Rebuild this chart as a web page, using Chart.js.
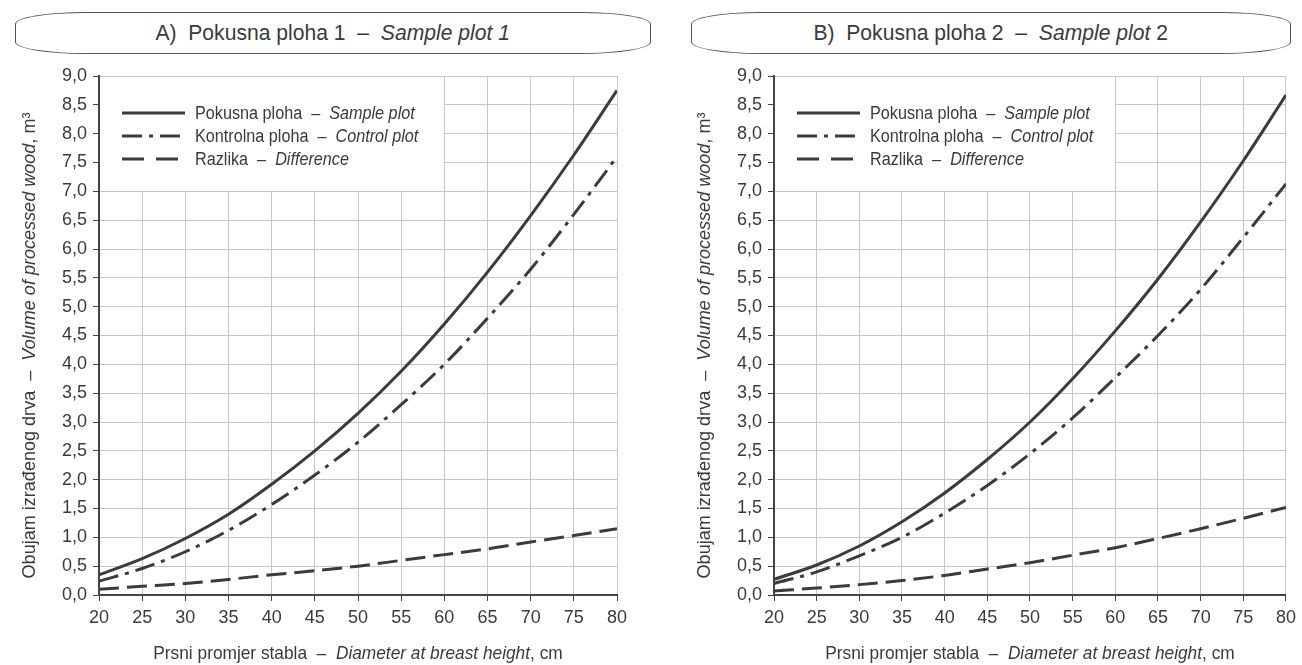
<!DOCTYPE html>
<html>
<head>
<meta charset="utf-8">
<script src="https://cdn.jsdelivr.net/npm/chart.js@4.4.1/dist/chart.umd.min.js"></script>
<style>
  html, body { margin: 0; padding: 0; background: #fff; }
  body { width: 1302px; height: 665px; position: relative; overflow: hidden;
         font-family: "Liberation Sans Narrow", "Arial Narrow", "Liberation Sans", sans-serif; color: #3a3a3a; }
  .title-box { position: absolute; top: 12px; height: 40px; border: 1px solid #555;
               border-radius: 70px / 12px; text-align: center; line-height: 40px; font-size: 22px; }
  .title-box span { display: inline-block; transform: scaleX(0.96); }
  .title-box i { font-style: italic; }
  canvas { position: absolute; top: 0; }
</style>
</head>
<body>
<div class="title-box" style="left:15px; width:634px;"><span>A)&nbsp; Pokusna ploha 1&nbsp; –&nbsp; <i>Sample plot 1</i></span></div>
<div class="title-box" style="left:691px; width:598px;"><span>B)&nbsp; Pokusna ploha 2&nbsp; –&nbsp; <i>Sample plot</i> 2</span></div>
<canvas id="chartA" width="651" height="665" style="left:0"></canvas>
<canvas id="chartB" width="627" height="665" style="left:675px"></canvas>
<script>
// promjer (cm)
const diameters = [20, 25, 30, 35, 40, 45, 50, 55, 60, 65, 70, 75, 80];

// Pokusna ploha 1
const plot1Sample  = [0.35, 0.63, 0.98, 1.40, 1.92, 2.50, 3.15, 3.88, 4.70, 5.60, 6.58, 7.63, 8.75];
const plot1Control = [0.24, 0.46, 0.75, 1.12, 1.57, 2.08, 2.65, 3.30, 4.00, 4.80, 5.65, 6.60, 7.60];
const plot1Diff    = [0.10, 0.15, 0.20, 0.27, 0.35, 0.42, 0.50, 0.60, 0.70, 0.80, 0.92, 1.03, 1.15];

// Pokusna ploha 2
const plot2Sample  = [0.27, 0.52, 0.85, 1.27, 1.77, 2.35, 3.00, 3.75, 4.58, 5.48, 6.47, 7.53, 8.67];
const plot2Control = [0.20, 0.40, 0.68, 1.00, 1.42, 1.90, 2.45, 3.07, 3.77, 4.50, 5.30, 6.20, 7.13];
const plot2Diff    = [0.07, 0.12, 0.18, 0.25, 0.34, 0.45, 0.56, 0.69, 0.82, 0.98, 1.15, 1.33, 1.52];

const legendLabels = [
    [['Pokusna ploha  –  ', false], ['Sample plot', true]],
    [['Kontrolna ploha  –  ', false], ['Control plot', true]],
    [['Razlika  –  ', false], ['Difference', true]]
];
const xTitle = [['Prsni promjer stabla  –  ', false], ['Diameter at breast height', true], [', cm', false]];
const yTitle = [['Obujam izrađenog drva  –  ', false], ['Volume of processed wood', true], [', m³', false]];

const FONT = '"Liberation Sans Narrow", "Arial Narrow", "Liberation Sans", sans-serif';
const LINE = '#3b3b3b';
const TEXT = '#3a3a3a';
const dashes = [[], [20, 7, 4, 7], [20, 8]];
const legendDashes = [[], [20, 7, 4, 7], [22, 12]];

// tekst s kurzivom, sx = suženje fonta
function richText(ctx, parts, x, y, size, sx, align) {
    let total = 0;
    parts.forEach(p => {
        ctx.font = (p[1] ? 'italic ' : '') + size + 'px ' + FONT;
        total += ctx.measureText(p[0]).width;
    });
    ctx.save();
    ctx.translate(x, y);
    ctx.scale(sx, 1);
    let cx = align === 'left' ? 0 : -total / 2;
    parts.forEach(p => {
        ctx.font = (p[1] ? 'italic ' : '') + size + 'px ' + FONT;
        ctx.fillText(p[0], cx, 0);
        cx += ctx.measureText(p[0]).width;
    });
    ctx.restore();
}

const legendBox = {
    id: 'legendBox',
    beforeDatasetsDraw(chart) {
        const ctx = chart.ctx;
        const area = chart.chartArea;
        const xs = chart.scales.x, ys = chart.scales.y;
        const right = xs.getPixelForValue(60);
        const bottom = ys.getPixelForValue(7);
        ctx.save();
        ctx.fillStyle = '#fff';
        ctx.fillRect(area.left + 1, area.top + 1, right - area.left - 1.5, bottom - area.top - 1.5);
        ctx.strokeStyle = LINE;
        ctx.lineWidth = 3;
        ctx.fillStyle = TEXT;
        ctx.textBaseline = 'middle';
        legendLabels.forEach((lab, i) => {
            const y = area.top + 37 + i * 23;
            ctx.setLineDash(legendDashes[i]);
            ctx.beginPath();
            ctx.moveTo(area.left + 23, y);
            ctx.lineTo(area.left + 86, y);
            ctx.stroke();
            richText(ctx, lab, area.left + 96, y + 1, 18, 0.9, 'left');
        });
        ctx.restore();
    },
    afterDraw(chart) {
        const ctx = chart.ctx;
        const area = chart.chartArea;
        ctx.save();
        ctx.fillStyle = TEXT;
        ctx.textBaseline = 'alphabetic';
        richText(ctx, xTitle, (area.left + area.right) / 2, 659, 19, 0.91);
        ctx.translate(35, (area.top + area.bottom) / 2 + 10);
        ctx.rotate(-Math.PI / 2);
        richText(ctx, yTitle, 0, 0, 19, 0.95);
        ctx.restore();
    }
};

function makeChart(id, sample, control, diff, rightPad) {
    const series = [sample, control, diff];
    new Chart(document.getElementById(id), {
        type: 'line',
        data: {
            datasets: series.map((vals, i) => ({
                data: diameters.map((d, j) => ({ x: d, y: vals[j] })),
                borderColor: LINE,
                borderWidth: 3,
                borderDash: dashes[i],
                pointRadius: 0,
                cubicInterpolationMode: 'monotone',
                fill: false
            }))
        },
        options: {
            responsive: false,
            animation: false,
            layout: { padding: { top: 76, right: rightPad, left: 0, bottom: 0 } },
            plugins: { legend: { display: false }, tooltip: { enabled: false } },
            scales: {
                x: {
                    type: 'linear', min: 20, max: 80,
                    ticks: { stepSize: 5, color: TEXT, padding: 6, font: { family: FONT, size: 18 } },
                    grid: { color: '#c6c6c6', tickColor: '#444', tickLength: 6, lineWidth: 1 },
                    border: { color: '#444', width: 2 },
                    afterFit: s => { s.height = 70; }
                },
                y: {
                    min: 0, max: 9,
                    ticks: {
                        stepSize: 0.5, color: TEXT, padding: 6, font: { family: FONT, size: 18 },
                        callback: v => v.toFixed(1).replace('.', ',')
                    },
                    grid: { color: '#c6c6c6', tickColor: '#444', tickLength: 6, lineWidth: 1 },
                    border: { color: '#444', width: 2 },
                    afterFit: s => { s.width = 99; }
                }
            }
        },
        plugins: [legendBox]
    });
}

makeChart('chartA', plot1Sample, plot1Control, plot1Diff, 34);
makeChart('chartB', plot2Sample, plot2Control, plot2Diff, 10);
</script>
</body>
</html>
